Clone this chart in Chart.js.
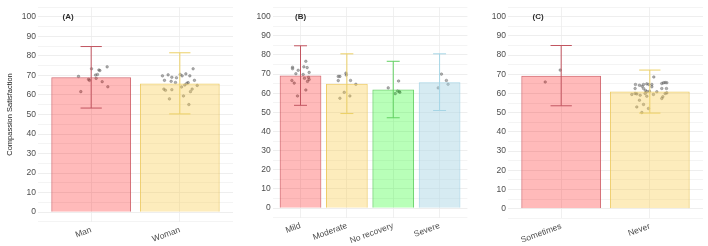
<!DOCTYPE html>
<html>
<head>
<meta charset="utf-8">
<script src="https://cdn.jsdelivr.net/npm/chart.js@4.4.0/dist/chart.umd.min.js"></script>
<style>
  html, body { margin: 0; padding: 0; background: #fff; }
  #wrap { position: relative; width: 708px; height: 246px; overflow: hidden; }
  .panel { position: absolute; top: 0; height: 246px; }
  #panelA { left: 0; width: 240px; }
  #panelB { left: 236px; width: 236px; }
  #panelC { left: 472px; width: 236px; }
</style>
</head>
<body>
<div id="wrap">
  <div class="panel" id="panelA"><canvas id="chartA"></canvas></div>
  <div class="panel" id="panelB"><canvas id="chartB"></canvas></div>
  <div class="panel" id="panelC"><canvas id="chartC"></canvas></div>
</div>
<script>
// --- DATA --- //
// (A) gender
const catsA = ['Man', 'Woman'];
const meanA = [69.1, 65.9];
const lowA = [53.3, 50.3];
const highA = [84.8, 81.6];
const jitXA = [0.857, 0.883, 0.97, 0.981, 1.004, 1.056, 1.049, 1.071, 1.087, 1.098, 1.124, 1.18, 1.188,
               1.804, 1.82, 1.827, 1.838, 1.868, 1.883, 1.902, 1.91, 1.91, 1.951, 1.962, 2.004, 2.019,
               2.026, 2.041, 2.056, 2.068, 2.079, 2.094, 2.102, 2.113, 2.12, 2.139, 2.15, 2.165, 2.196];
const jitYA = [69.5, 61.7, 68.0, 67.5, 73.4, 68.5, 70.2, 70.5, 72.8, 72.5, 66.8, 74.4, 64.2,
               69.8, 63.0, 67.5, 62.4, 70.3, 58.0, 67.0, 69.1, 62.7, 66.4, 68.8, 70.5, 64.1,
               69.8, 59.5, 65.1, 70.8, 66.0, 66.3, 55.1, 69.8, 61.7, 63.0, 73.4, 67.5, 64.9];

// (B) recovery
const catsB = ['Mild', 'Moderate', 'No recovery', 'Severe'];
const meanB = [69.3, 65.0, 62.0, 65.8];
const lowB = [53.7, 49.4, 47.2, 51.0];
const highB = [84.8, 80.6, 76.7, 80.6];
const jitXB = [0.828, 0.828, 0.95, 0.9, 0.814, 0.864, 0.935, 1.072, 1.115, 1.143, 1.186, 1.057, 1.086, 1.172, 1.186, 1.15, 1.115,
               1.814, 1.85, 1.814, 1.98, 1.986, 2.079, 2.194, 1.943, 1.85, 2.065,
               2.892, 3.115, 3.043, 3.093, 3.129, 3.143,
               4.04, 3.97, 4.147, 4.183];
const jitYB = [73.6, 72.8, 72.0, 70.2, 66.7, 65.3, 58.6, 73.8, 76.7, 73.4, 70.9, 69.8, 67.8, 68.3, 67.2, 66.2, 61.7,
               68.8, 68.8, 66.6, 70.5, 69.5, 66.7, 64.7, 60.5, 57.4, 58.6,
               62.8, 66.4, 59.8, 61.2, 60.9, 60.5,
               70.0, 62.8, 66.7, 64.7];

// (C) frequency
const catsC = ['Sometimes', 'Never'];
const meanC = [69.2, 61.0];
const lowC = [53.6, 49.8];
const highC = [85.0, 72.2];
const jitXC = [0.989, 0.82,
               2.045, 1.838, 1.883, 1.913, 1.929, 1.966, 1.989, 2.023, 2.135, 2.154, 2.173, 2.192,
               1.834, 1.929, 1.951, 1.966, 1.996, 2.079, 2.135, 2.188, 1.797, 1.834, 1.853, 1.891,
               1.966, 2.041, 2.147, 2.135, 2.173, 1.883, 1.929, 1.853, 1.985, 1.91, 2.192, 1.947, 2.023];
const jitYC = [72.2, 66.0,
               68.6, 64.7, 64.3, 63.8, 64.7, 65.0, 64.7, 64.7, 65.2, 65.6, 65.7, 65.6,
               62.6, 62.6, 61.6, 61.0, 61.2, 60.9, 62.6, 62.6, 59.5, 60.0, 59.8, 59.1,
               58.6, 59.5, 58.3, 57.4, 60.0, 56.5, 54.3, 53.0, 52.2, 50.1, 60.3, 60.0, 63.5];

// --- STYLES --- //
const FONT = '"Liberation Sans", Arial, sans-serif';
const STYLE = {
    red:    { fill: 'rgba(255, 0, 0, 0.27)',     border: 'rgba(200, 70, 80, 0.8)',   err: '#c25560' },
    yellow: { fill: 'rgba(250, 205, 80, 0.38)',  border: 'rgba(235, 200, 90, 0.9)',  err: '#ecd066' },
    green:  { fill: 'rgba(0, 255, 0, 0.28)',     border: 'rgba(80, 200, 80, 0.85)',  err: '#62d062' },
    blue:   { fill: 'rgba(173, 216, 230, 0.5)',  border: 'rgba(160, 210, 228, 0.9)', err: '#a6d6e6' }
};

// --- PLUGINS --- //
// error bars, drawn right after the bars so the jitter points sit on top
const errorBarPlugin = {
    id: 'errorBars',
    afterDatasetDraw(chart, args, opts) {
        if (args.index !== 0 || !opts.low) return;
        const x = chart.scales.x, y = chart.scales.y, ctx = chart.ctx;
        ctx.save();
        ctx.lineWidth = 1;
        opts.low.forEach((lo, i) => {
            const cx = x.getPixelForValue(i + 1);
            const half = (x.getPixelForValue(i + 1 + opts.cap / 2) - x.getPixelForValue(i + 1 - opts.cap / 2)) / 2;
            const yl = y.getPixelForValue(lo), yh = y.getPixelForValue(opts.high[i]);
            ctx.strokeStyle = opts.colors[i];
            ctx.beginPath();
            ctx.moveTo(cx, yl); ctx.lineTo(cx, yh);
            ctx.moveTo(cx - half, yl); ctx.lineTo(cx + half, yl);
            ctx.moveTo(cx - half, yh); ctx.lineTo(cx + half, yh);
            ctx.stroke();
        });
        ctx.restore();
    }
};

// panel tag (A)/(B)/(C)
const tagPlugin = {
    id: 'panelTag',
    afterDraw(chart, args, opts) {
        if (!opts.text) return;
        const ctx = chart.ctx;
        ctx.save();
        ctx.font = 'bold 8px ' + FONT;
        ctx.fillStyle = '#2a2a2a';
        ctx.textAlign = 'center';
        ctx.textBaseline = 'middle';
        ctx.fillText(opts.text, chart.scales.x.getPixelForValue(opts.x), chart.scales.y.getPixelForValue(100));
        ctx.restore();
    }
};

// --- BUILD ONE PANEL --- //
function makePanel(id, cats, means, low, high, jx, jy, colors, cfg) {
    const pal = colors.map(c => STYLE[c]);
    return new Chart(document.getElementById(id), {
        type: 'bar',
        data: {
            datasets: [{
                type: 'bar',
                data: means.map((v, i) => ({ x: i + 1, y: v })),
                backgroundColor: pal.map(p => p.fill),
                borderColor: pal.map(p => p.border),
                borderWidth: 1,
                categoryPercentage: 0.9,
                barPercentage: 1
            }, {
                type: 'scatter',
                data: jx.map((v, i) => ({ x: v, y: jy[i] })),
                pointRadius: 1.3,
                pointBackgroundColor: 'rgba(100, 100, 100, 0.5)',
                pointBorderColor: 'rgba(80, 80, 80, 0.55)',
                pointBorderWidth: 0.6
            }]
        },
        options: {
            responsive: true,
            maintainAspectRatio: false,
            animation: false,
            layout: { padding: { top: cfg.top, right: cfg.right, left: 0, bottom: 0 } },
            plugins: {
                legend: { display: false },
                tooltip: { enabled: false },
                errorBars: { low: low, high: high, colors: pal.map(p => p.err), cap: cfg.cap },
                panelTag: { text: cfg.tag, x: cfg.tagX }
            },
            scales: {
                x: {
                    type: 'linear',
                    min: 0.4,
                    max: cats.length + 0.6,
                    offset: false,
                    border: { display: false },
                    grid: { offset: false, color: '#ececec', lineWidth: 0.8, drawTicks: false },
                    ticks: {
                        autoSkip: false,
                        minRotation: 20,
                        maxRotation: 20,
                        padding: 3,
                        color: '#4d4d4d',
                        font: { family: FONT, size: 8.5 },
                        callback: v => cats[v - 1] || ''
                    },
                    // one tick per category, nothing in between
                    afterBuildTicks: s => { s.ticks = cats.map((c, i) => ({ value: i + 1 })); },
                    afterFit: s => { s.height = cfg.xh; }
                },
                y: {
                    min: -5,
                    max: 105,
                    border: { display: false },
                    grid: {
                        color: '#ececec',
                        lineWidth: ctx => (ctx.tick && ctx.tick.value % 10 === 0) ? 0.9 : 0.6,
                        drawTicks: false
                    },
                    ticks: {
                        stepSize: 5,
                        maxTicksLimit: 40,
                        autoSkip: false,
                        padding: 2,
                        color: '#4d4d4d',
                        font: { family: FONT, size: 8.5 },
                        callback: v => (v % 10 === 0 && v >= 0 && v <= 100) ? String(v) : ''
                    },
                    title: {
                        display: !!cfg.ytitle,
                        text: cfg.ytitle || '',
                        color: '#1a1a1a',
                        font: { family: '"Liberation Sans Narrow", "Liberation Sans", Arial, sans-serif', size: 7.5 },
                        padding: { top: 5, bottom: 0 }
                    },
                    afterFit: s => { s.width = cfg.yw; }
                }
            }
        },
        plugins: [errorBarPlugin, tagPlugin]
    });
}

document.addEventListener('DOMContentLoaded', () => {
    makePanel('chartA', catsA, meanA, lowA, highA, jitXA, jitYA, ['red', 'yellow'],
        { top: 4.4, right: 7, xh: 24.1, yw: 38, cap: 0.24, tag: '(A)', tagX: 0.74, ytitle: 'Compassion Satisfaction' });
    makePanel('chartB', catsB, meanB, lowB, highB, jitXB, jitYB, ['red', 'yellow', 'green', 'blue'],
        { top: 4.6, right: 4.3, xh: 28.3, yw: 36.7, cap: 0.28, tag: '(B)', tagX: 1.0 });
    makePanel('chartC', catsC, meanC, lowC, highC, jitXC, jitYC, ['red', 'yellow'],
        { top: 4.6, right: 5, xh: 27.7, yw: 36, cap: 0.24, tag: '(C)', tagX: 0.74 });
});
</script>
</body>
</html>
